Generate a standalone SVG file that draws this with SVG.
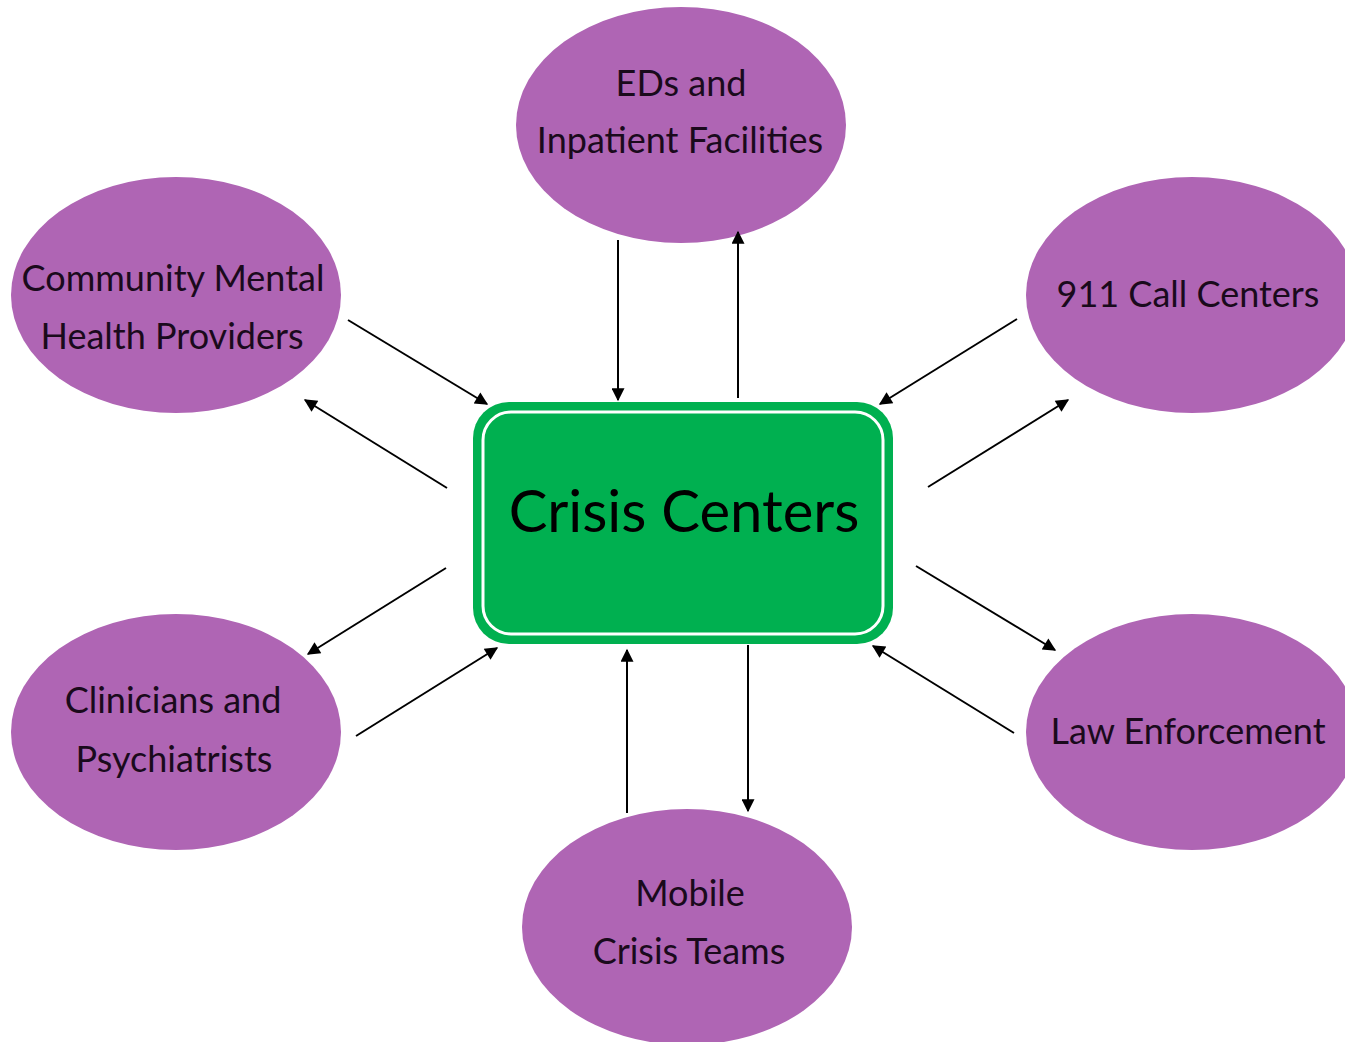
<svg xmlns="http://www.w3.org/2000/svg" width="1345" height="1042" viewBox="0 0 1345 1042">
<defs>
<style>
.node ellipse{fill:#AF65B4}
.lbl{font-family:Lato,"Open Sans","Liberation Sans",sans-serif;font-size:36px;fill:#1a0a1c;text-anchor:middle}
.conn line{stroke:#000;stroke-width:2;marker-end:url(#ah)}
</style>
<marker id="ah" viewBox="0 0 10 10" refX="9" refY="5" markerWidth="15" markerHeight="13" markerUnits="userSpaceOnUse" orient="auto">
<path d="M0,0 L10,5 L0,10 z" fill="#000"/>
</marker>
</defs>
<rect width="1345" height="1042" fill="#fff"/>
<g id="eds" class="node"><ellipse cx="681" cy="125" rx="165" ry="118"/>
<text class="lbl" x="681" y="96">EDs and</text><text class="lbl" x="680" y="153">Inpatient Facilities</text></g>
<g id="community" class="node"><ellipse cx="176" cy="295" rx="165" ry="118"/>
<text class="lbl" x="173" y="291">Community Mental</text><text class="lbl" x="172" y="349">Health Providers</text></g>
<g id="call911" class="node"><ellipse cx="1192" cy="295" rx="166" ry="118"/>
<text class="lbl" x="1188" y="307">911 Call Centers</text></g>
<g id="clinicians" class="node"><ellipse cx="176" cy="732" rx="165" ry="118"/>
<text class="lbl" x="173" y="713">Clinicians and</text><text class="lbl" x="174" y="772">Psychiatrists</text></g>
<g id="law" class="node"><ellipse cx="1192" cy="732" rx="166" ry="118"/>
<text class="lbl" x="1188" y="744">Law Enforcement</text></g>
<g id="mobile" class="node"><ellipse cx="687" cy="927" rx="165" ry="118"/>
<text class="lbl" x="690" y="906">Mobile</text><text class="lbl" x="689" y="964">Crisis Teams</text></g>
<g id="crisis" class="node">
<rect x="473" y="402" width="420" height="242" rx="36" fill="#00B050"/>
<rect x="483" y="412" width="400" height="222" rx="28" fill="none" stroke="#fff" stroke-width="3"/>
<text x="684" y="532" font-family="Lato,'Open Sans','Liberation Sans',sans-serif" font-size="58" text-anchor="middle" fill="#000">Crisis Centers</text>
</g>
<g id="connectors" class="conn">
<line x1="348" y1="320" x2="487" y2="404"/>
<line x1="447" y1="488" x2="305" y2="400"/>
<line x1="618" y1="240" x2="618" y2="400"/>
<line x1="738" y1="398" x2="738" y2="232"/>
<line x1="1017" y1="319" x2="880" y2="404"/>
<line x1="928" y1="487" x2="1068" y2="400"/>
<line x1="446" y1="568" x2="308" y2="654"/>
<line x1="356" y1="736" x2="497" y2="648"/>
<line x1="627" y1="813" x2="627" y2="650"/>
<line x1="748" y1="645" x2="748" y2="811"/>
<line x1="916" y1="566" x2="1055" y2="650"/>
<line x1="1014" y1="733" x2="873" y2="646"/>
</g>
</svg>
